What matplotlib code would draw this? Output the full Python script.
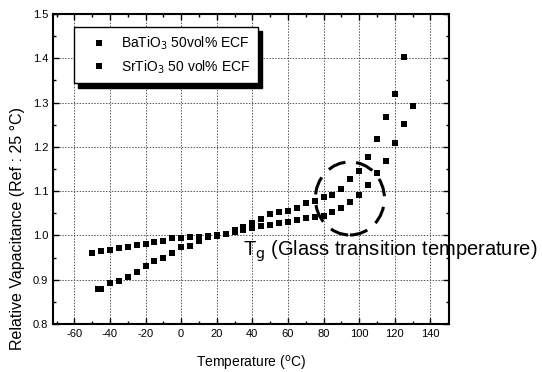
import matplotlib
matplotlib.use("Agg")
import matplotlib.pyplot as plt
from matplotlib.patches import Ellipse
from matplotlib.ticker import MultipleLocator, FormatStrFormatter

plt.rcParams['font.family'] = ['Liberation Sans', 'DejaVu Sans']

# BaTiO3 50 vol% ECF (steep at low temperature)
ba_temp = [-47, -45, -40, -35, -30, -25, -20, -15, -10, -5, 0, 5, 10, 15, 20, 25, 30,
           35, 40, 45, 50, 55, 60, 65, 70, 75, 80, 85, 90, 95, 100, 105, 110, 115, 120, 125]
ba_rel = [0.879, 0.879, 0.893, 0.897, 0.907, 0.918, 0.930, 0.943, 0.948, 0.961, 0.973,
          0.977, 0.988, 0.996, 0.999, 1.004, 1.012, 1.018, 1.028, 1.037, 1.048, 1.052,
          1.056, 1.061, 1.073, 1.078, 1.086, 1.091, 1.105, 1.127, 1.145, 1.177, 1.217,
          1.268, 1.319, 1.403]

# SrTiO3 50 vol% ECF
sr_temp = [-50, -45, -40, -35, -30, -25, -20, -15, -10, -5, 0, 5, 10, 15, 20, 25, 30,
           35, 40, 45, 50, 55, 60, 65, 70, 75, 80, 85, 90, 95, 100, 105, 110, 115, 120,
           125, 130]
sr_rel = [0.960, 0.965, 0.967, 0.972, 0.975, 0.979, 0.981, 0.985, 0.988, 0.995, 0.995,
          0.997, 0.997, 0.999, 1.000, 1.003, 1.008, 1.012, 1.016, 1.021, 1.024, 1.028,
          1.031, 1.035, 1.039, 1.042, 1.044, 1.052, 1.061, 1.075, 1.091, 1.115, 1.140,
          1.169, 1.208, 1.252, 1.292]

series_labels = ['BaTiO$_3$ 50vol% ECF', 'SrTiO$_3$ 50 vol% ECF']
x_ticks = [-60, -40, -20, 0, 20, 40, 60, 80, 100, 120, 140]
y_ticks = [0.8, 0.9, 1.0, 1.1, 1.2, 1.3, 1.4, 1.5]

fig = plt.figure(figsize=(5.42, 3.72), dpi=100)
ax = fig.add_axes([0.0978, 0.129, 0.7306, 0.8334])

ax.plot(ba_temp, ba_rel, 's', color='black', ms=4.5, mew=0, label=series_labels[0])
ax.plot(sr_temp, sr_rel, 's', color='black', ms=4.5, mew=0, label=series_labels[1])

ax.set_xlim(-72, 150.5)
ax.set_ylim(0.8, 1.5)
ax.set_xticks(x_ticks)
ax.set_yticks(y_ticks)
ax.xaxis.set_minor_locator(MultipleLocator(10))
ax.yaxis.set_minor_locator(MultipleLocator(0.05))
ax.yaxis.set_major_formatter(FormatStrFormatter('%.1f'))
ax.set_xticklabels([str(t) for t in x_ticks])
ax.tick_params(which='both', direction='in', top=True, right=True, labelsize=8,
               width=1.0, colors='black')
ax.tick_params(which='major', length=4)
ax.tick_params(which='minor', length=2.5)
for sp in ax.spines.values():
    sp.set_linewidth(1.5)

ax.grid(True, which='major', linestyle=(0, (1.5, 1.5)), color='#555555', linewidth=0.7)
ax.set_axisbelow(True)

ax.set_xlabel('Temperature ($^{\\mathrm{o}}$C)', fontsize=10, labelpad=11)
fig.text(0.033, 0.387, 'Relative Vapacitance (Ref : 25 \u00b0C)', rotation=90,
         fontsize=11.5, ha='center', va='center')

ell = Ellipse((94.8, 1.0835), 38.8, 0.165, fill=False, edgecolor='black',
              linewidth=2.2, linestyle=(0, (6, 3.5)))
ax.add_patch(ell)

ax.text(35, 0.965, 'T$_{\\mathrm{g}}$ (Glass transition temperature)', fontsize=14.5,
        ha='left', va='center', clip_on=False)

leg = ax.legend(loc='upper left', bbox_to_anchor=(0.053, 0.958), borderaxespad=0,
                fontsize=10, frameon=True, fancybox=False, edgecolor='black',
                shadow={'color': 'black', 'alpha': 1, 'ox': 3, 'oy': -3},
                handletextpad=0.35, borderpad=0.55, labelspacing=0.45,
                handlelength=2.5)
leg.get_frame().set_linewidth(1.0)

fig.savefig('out.png', dpi=100)
